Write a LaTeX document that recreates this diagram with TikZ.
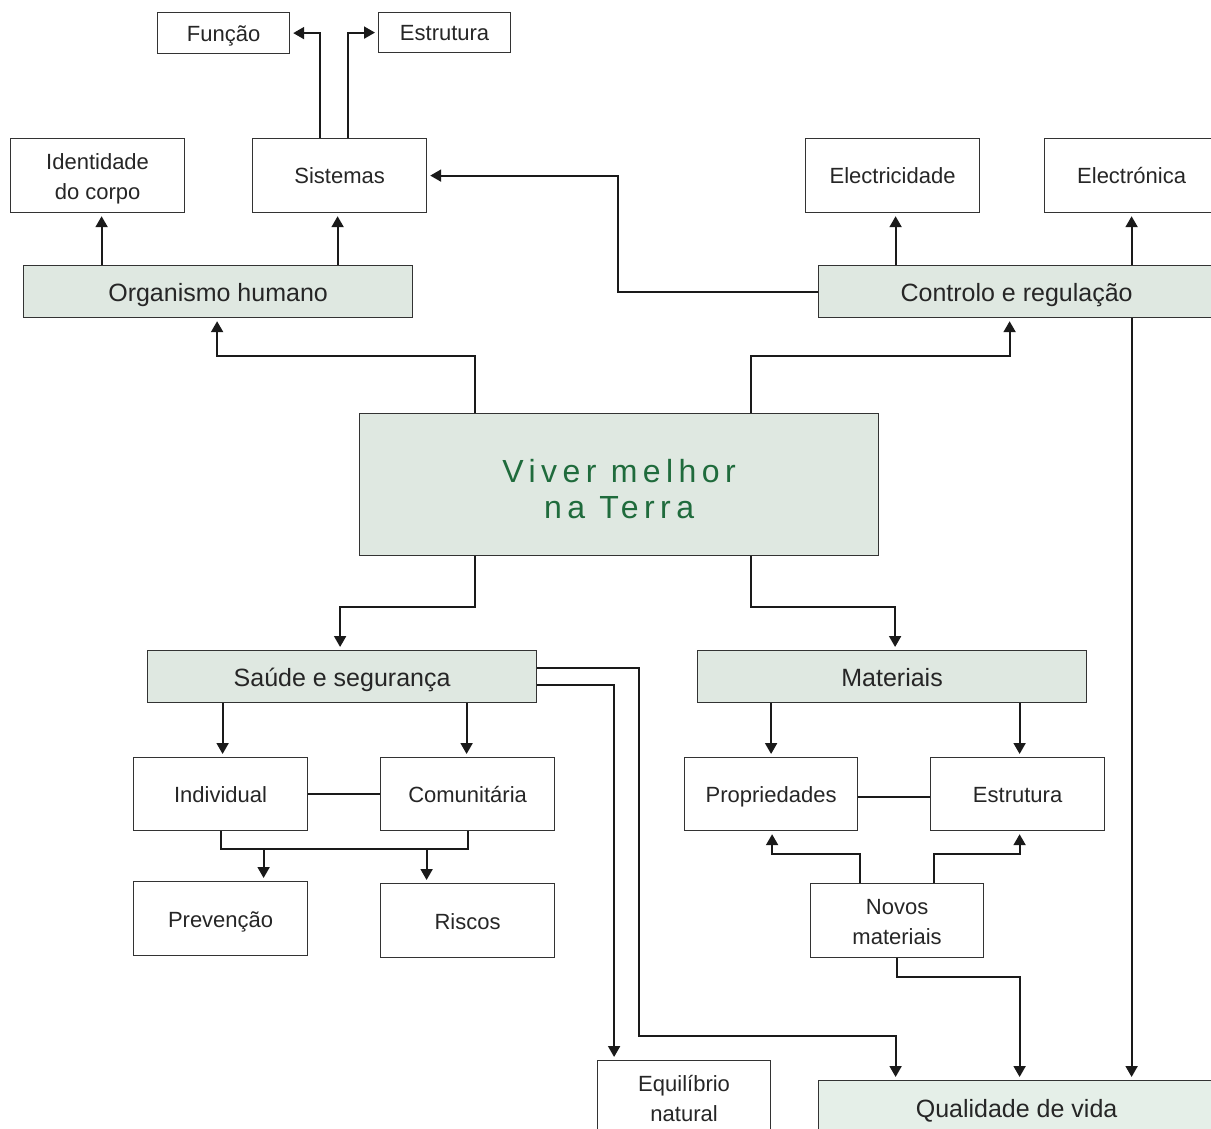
\documentclass[tikz,border=0pt]{standalone}
\usepackage{fontspec}
\setmainfont{Liberation Sans}
\usetikzlibrary{arrows.meta}
\definecolor{boxgreen}{HTML}{DFE8E1}
\definecolor{qualgreen}{HTML}{E5EFE8}
\definecolor{titlegreen}{HTML}{1F6B3C}
\definecolor{lineblack}{HTML}{1A1A1A}
\tikzset{
  box/.style={draw=black!80, line width=1.2pt, fill=white, inner sep=0pt, anchor=north west,
    align=center, font=\fontsize{22}{30}\selectfont, text=black!85},
  gbox/.style={box, fill=boxgreen, font=\fontsize{25}{30}\selectfont},
  conn/.style={lineblack, line width=2pt},
  arr/.style={conn, -{Triangle[length=11pt,width=12pt]}, shorten >=3pt},
}
% single line, fixed height/depth, lowered
\newcommand{\one}[2]{\raisebox{-#1}[16pt][5pt]{#2}}
% two lines
\newcommand{\two}[2]{\raisebox{-3.2pt}[\height][\depth]{\begin{tabular}{@{}c@{}}#1\\#2\end{tabular}}}
\newcommand{\bx}[6]{\node[#1, minimum width=#4pt, minimum height=#5pt] (#2) at (#3) {#6};}
\begin{document}
\begin{tikzpicture}[x=1pt,y=-1pt]
\useasboundingbox (0,0) rectangle (1211,1129);
\clip (0,0) rectangle (1211,1129);
% top
\bx{box}{fun}{157,12}{132}{41}{\one{2.9pt}{Função}}
\bx{box}{estA}{378,12}{132}{40}{\one{2.9pt}{Estrutura}}
\bx{box}{idc}{10,138}{174}{74}{\two{Identidade}{do corpo}}
\bx{box}{sis}{252,138}{174}{74}{\one{2.9pt}{Sistemas}}
\bx{box}{ele}{805,138}{174}{74}{\one{2.9pt}{Electricidade}}
\bx{box}{elc}{1044,138}{174}{74}{\one{2.9pt}{Electrónica}}
\bx{gbox}{org}{23,265}{389}{52}{\one{3.9pt}{Organismo humano}}
\bx{gbox}{ctl}{818,265}{396}{52}{\one{3.9pt}{Controlo e regulação}}
% centre
\node[box, fill=boxgreen, minimum width=519pt, minimum height=142pt, text=titlegreen,
  font=\fontsize{32}{36}\selectfont\addfontfeature{LetterSpace=17}] (viv) at (359,413)
  {\raisebox{-8.3pt}[\height][\depth]{\begin{tabular}{@{}c@{}}Viver melhor\\na Terra\end{tabular}}};
% lower
\bx{gbox}{sau}{147,650}{389}{52}{\one{3.9pt}{Saúde e segurança}}
\bx{gbox}{mat}{697,650}{389}{52}{\one{3.9pt}{Materiais}}
\bx{box}{ind}{133,757}{174}{73}{\one{2.9pt}{Individual}}
\bx{box}{com}{380,757}{174}{73}{\one{2.9pt}{Comunitária}}
\bx{box}{prop}{684,757}{173}{73}{\one{2.9pt}{Propriedades}}
\bx{box}{estB}{930,757}{174}{73}{\one{2.9pt}{Estrutura}}
\bx{box}{prev}{133,881}{174}{74}{\one{2.9pt}{Prevenção}}
\bx{box}{ris}{380,883}{174}{74}{\one{2.9pt}{Riscos}}
\bx{box}{nov}{810,883}{173}{74}{\two{Novos}{materiais}}
\bx{box}{equ}{597,1060}{173}{74}{\two{Equilíbrio}{natural}}
\node[gbox, fill=qualgreen, minimum width=396pt, minimum height=56pt] (qual) at (818,1080) {\one{3.5pt}{Qualidade de vida}};
% connectors top
\draw[arr] ([xshift=-20]sis.north) |- (fun.east);
\draw[arr] ([xshift=8]sis.north) |- (estA.west);
\draw[arr] ([xshift=4]org.north -| idc.south) -- ([xshift=4]idc.south);
\draw[arr] ([xshift=-2]org.north -| sis.south) -- ([xshift=-2]sis.south);
\draw[arr] (ctl.west) -- ++(-200,0) |- (sis.east);
\draw[arr] ([xshift=3]ele.south |- ctl.north) -- ([xshift=3]ele.south);
\draw[arr] (ctl.north -| elc.south) -- (elc.south);
\draw[arr] ([xshift=115]ctl.south) -- ([xshift=115]qual.north);
% from centre
\draw[arr] ([xshift=-144]viv.north) |- ([xshift=-1,yshift=-38]org.south) -- ([xshift=-1]org.south);
\draw[arr] ([xshift=132]viv.north) |- ([xshift=-7,yshift=-38]ctl.south) -- ([xshift=-7]ctl.south);
\draw[arr] ([xshift=-144]viv.south) |- ([xshift=-2,yshift=43]sau.north) -- ([xshift=-2]sau.north);
\draw[arr] ([xshift=132]viv.south) |- ([xshift=3,yshift=43]mat.north) -- ([xshift=3]mat.north);
% saude
\draw[arr] ([xshift=2]ind.north |- sau.south) -- ([xshift=2]ind.north);
\draw[arr] ([xshift=-1]com.north |- sau.south) -- ([xshift=-1]com.north);
\draw[conn] (ind.east) -- (com.west);
\coordinate (jn) at ([yshift=-18]ind.south);
\draw[conn] (ind.south) |- ([yshift=-18]com.south) -- (com.south);
\coordinate (pa) at ([xshift=43]prev.north);
\coordinate (ra) at ([xshift=-41]ris.north);
\draw[arr] (pa |- jn) -- (pa);
\draw[arr] (ra |- jn) -- (ra);
\coordinate (ea) at ([xshift=-70]equ.north);
\draw[arr] ([yshift=-8]sau.east) -| (ea);
\draw[arr] ([yshift=9]sau.east) -- ++(102,0) |- ([xshift=-121,yshift=44]qual.north) -- ([xshift=-121]qual.north);
% materiais
\draw[arr] (mat.south -| prop.north) -- (prop.north);
\draw[arr] ([xshift=2]estB.north |- mat.south) -- ([xshift=2]estB.north);
\draw[conn] ([yshift=-3]prop.east) -- ([yshift=-3]estB.west);
\draw[arr] ([xshift=-37]nov.north) |- ([xshift=1,yshift=-23]prop.south) -- ([xshift=1]prop.south);
\draw[arr] ([xshift=37]nov.north) |- ([xshift=2,yshift=-23]estB.south) -- ([xshift=2]estB.south);
\draw[arr] (nov.south) |- ([xshift=3,yshift=103]qual.north) -- ([xshift=3]qual.north);
\end{tikzpicture}
\end{document}
